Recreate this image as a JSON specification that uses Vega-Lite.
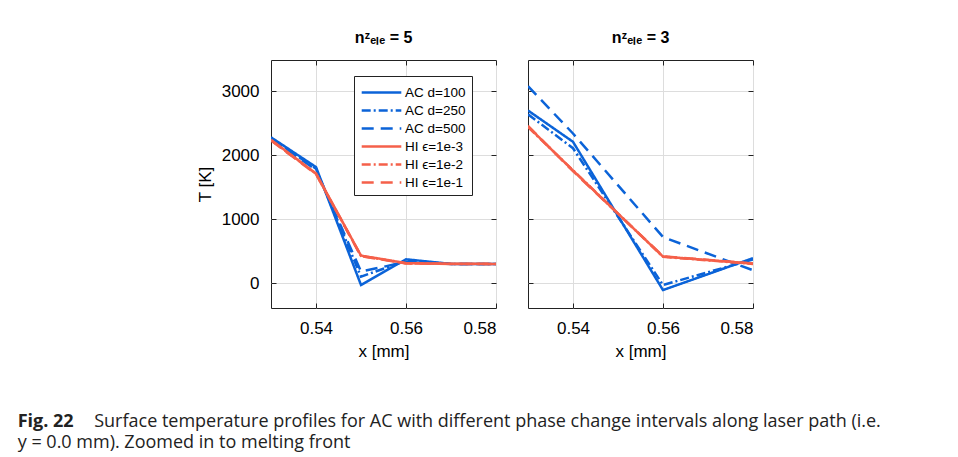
{
  "$schema": "https://vega.github.io/schema/vega-lite/v6.json",
  "padding": {"left": 17, "top": 29, "right": 5, "bottom": 5},
  "background": "white",
  "datasets": {
    "temps": [
      {"panel": "n5", "series": "AC d=100", "x": 0.53, "T": 2280},
      {"panel": "n5", "series": "AC d=100", "x": 0.54, "T": 1815},
      {"panel": "n5", "series": "AC d=100", "x": 0.55, "T": -30},
      {"panel": "n5", "series": "AC d=100", "x": 0.56, "T": 372},
      {"panel": "n5", "series": "AC d=100", "x": 0.57, "T": 300},
      {"panel": "n5", "series": "AC d=100", "x": 0.58, "T": 300},
      {"panel": "n5", "series": "AC d=250", "x": 0.53, "T": 2270},
      {"panel": "n5", "series": "AC d=250", "x": 0.54, "T": 1790},
      {"panel": "n5", "series": "AC d=250", "x": 0.55, "T": 100},
      {"panel": "n5", "series": "AC d=250", "x": 0.56, "T": 350},
      {"panel": "n5", "series": "AC d=250", "x": 0.57, "T": 300},
      {"panel": "n5", "series": "AC d=250", "x": 0.58, "T": 300},
      {"panel": "n5", "series": "AC d=500", "x": 0.53, "T": 2265},
      {"panel": "n5", "series": "AC d=500", "x": 0.54, "T": 1770},
      {"panel": "n5", "series": "AC d=500", "x": 0.55, "T": 180},
      {"panel": "n5", "series": "AC d=500", "x": 0.56, "T": 330},
      {"panel": "n5", "series": "AC d=500", "x": 0.57, "T": 300},
      {"panel": "n5", "series": "AC d=500", "x": 0.58, "T": 300},
      {"panel": "n5", "series": "HI ϵ=1e-3", "x": 0.53, "T": 2240},
      {"panel": "n5", "series": "HI ϵ=1e-3", "x": 0.54, "T": 1715},
      {"panel": "n5", "series": "HI ϵ=1e-3", "x": 0.55, "T": 430},
      {"panel": "n5", "series": "HI ϵ=1e-3", "x": 0.56, "T": 312},
      {"panel": "n5", "series": "HI ϵ=1e-3", "x": 0.57, "T": 302},
      {"panel": "n5", "series": "HI ϵ=1e-3", "x": 0.58, "T": 300},
      {"panel": "n5", "series": "HI ϵ=1e-2", "x": 0.53, "T": 2235},
      {"panel": "n5", "series": "HI ϵ=1e-2", "x": 0.54, "T": 1710},
      {"panel": "n5", "series": "HI ϵ=1e-2", "x": 0.55, "T": 425},
      {"panel": "n5", "series": "HI ϵ=1e-2", "x": 0.56, "T": 310},
      {"panel": "n5", "series": "HI ϵ=1e-2", "x": 0.57, "T": 300},
      {"panel": "n5", "series": "HI ϵ=1e-2", "x": 0.58, "T": 300},
      {"panel": "n5", "series": "HI ϵ=1e-1", "x": 0.53, "T": 2230},
      {"panel": "n5", "series": "HI ϵ=1e-1", "x": 0.54, "T": 1705},
      {"panel": "n5", "series": "HI ϵ=1e-1", "x": 0.55, "T": 420},
      {"panel": "n5", "series": "HI ϵ=1e-1", "x": 0.56, "T": 308},
      {"panel": "n5", "series": "HI ϵ=1e-1", "x": 0.57, "T": 300},
      {"panel": "n5", "series": "HI ϵ=1e-1", "x": 0.58, "T": 300},
      {"panel": "n3", "series": "AC d=100", "x": 0.53, "T": 2700},
      {"panel": "n3", "series": "AC d=100", "x": 0.54, "T": 2210},
      {"panel": "n3", "series": "AC d=100", "x": 0.56, "T": -110},
      {"panel": "n3", "series": "AC d=100", "x": 0.58, "T": 390},
      {"panel": "n3", "series": "AC d=250", "x": 0.53, "T": 2640},
      {"panel": "n3", "series": "AC d=250", "x": 0.54, "T": 2110},
      {"panel": "n3", "series": "AC d=250", "x": 0.56, "T": -30},
      {"panel": "n3", "series": "AC d=250", "x": 0.58, "T": 370},
      {"panel": "n3", "series": "AC d=500", "x": 0.53, "T": 3080},
      {"panel": "n3", "series": "AC d=500", "x": 0.54, "T": 2340},
      {"panel": "n3", "series": "AC d=500", "x": 0.56, "T": 720},
      {"panel": "n3", "series": "AC d=500", "x": 0.58, "T": 200},
      {"panel": "n3", "series": "HI ϵ=1e-3", "x": 0.53, "T": 2450},
      {"panel": "n3", "series": "HI ϵ=1e-3", "x": 0.54, "T": 1760},
      {"panel": "n3", "series": "HI ϵ=1e-3", "x": 0.56, "T": 415},
      {"panel": "n3", "series": "HI ϵ=1e-3", "x": 0.58, "T": 305},
      {"panel": "n3", "series": "HI ϵ=1e-2", "x": 0.53, "T": 2440},
      {"panel": "n3", "series": "HI ϵ=1e-2", "x": 0.54, "T": 1765},
      {"panel": "n3", "series": "HI ϵ=1e-2", "x": 0.56, "T": 410},
      {"panel": "n3", "series": "HI ϵ=1e-2", "x": 0.58, "T": 300},
      {"panel": "n3", "series": "HI ϵ=1e-1", "x": 0.53, "T": 2460},
      {"panel": "n3", "series": "HI ϵ=1e-1", "x": 0.54, "T": 1750},
      {"panel": "n3", "series": "HI ϵ=1e-1", "x": 0.56, "T": 420},
      {"panel": "n3", "series": "HI ϵ=1e-1", "x": 0.58, "T": 305}
    ]
  },
  "data": {"name": "temps"},
  "title": {
    "text": "Fig. 22",
    "subtitle": ["\u200B\u2003\u2003\u2003\u2003\u2005Surface temperature profiles for AC with different phase change intervals along laser path (i.e.", "y = 0.0 mm). Zoomed in to melting front"],
    "orient": "bottom",
    "anchor": "start",
    "frame": "bounds",
    "dx": -178,
    "offset": 53,
    "font": "Open Sans",
    "fontSize": 18,
    "fontWeight": "bold",
    "color": "#222222",
    "subtitleFont": "Open Sans",
    "subtitleFontSize": 18,
    "subtitleFontWeight": "normal",
    "subtitleColor": "#222222",
    "subtitlePadding": -18,
    "subtitleLineHeight": 21
  },
  "hconcat": [
    {
      "width": 225,
      "height": 248,
      "title": {"text": "nᶻₑₗₑ = 5"},
      "transform": [{"filter": "datum.panel == 'n5'"}],
      "layer": [
        {
          "mark": {"type": "line", "strokeWidth": 2.5, "clip": true},
          "encoding": {
            "x": {"field": "x", "type": "quantitative", "scale": {"domain": [0.53, 0.58], "nice": false, "zero": false},
                  "axis": {"values": [0.54, 0.56, 0.58], "format": ".2f", "title": "x [mm]"}},
            "y": {"field": "T", "type": "quantitative", "scale": {"domain": [-390, 3490], "nice": false, "zero": false},
                  "axis": {"values": [0, 1000, 2000, 3000], "format": "d", "title": "T [K]"}},
            "color": {"field": "series", "type": "nominal",
                      "scale": {"domain": ["AC d=100", "AC d=250", "AC d=500", "HI ϵ=1e-3", "HI ϵ=1e-2", "HI ϵ=1e-1"],
                                "range": ["#0b63d8", "#0b63d8", "#0b63d8", "#f5604a", "#f5604a", "#f5604a"]},
                      "legend": {"orient": "none", "legendX": 83, "legendY": 16, "title": null,
                                 "symbolType": "M-2.2,0H2.2", "symbolSize": 324, "symbolStrokeWidth": 2.5,
                                 "symbolOffset": 11, "labelOffset": 13, "labelFont": "Liberation Sans", "labelFontSize": 13.5,
                                 "labelColor": "black", "strokeColor": "#222222", "fillColor": "white", "padding": 6, "rowPadding": 1}},
            "strokeDash": {"field": "series", "type": "nominal",
                      "scale": {"domain": ["AC d=100", "AC d=250", "AC d=500", "HI ϵ=1e-3", "HI ϵ=1e-2", "HI ϵ=1e-1"],
                                "range": [[1, 0], [9, 3, 2, 3], [12, 7], [1, 0], [9, 3, 2, 3], [12, 7]]},
                      "legend": {"orient": "none", "legendX": 83, "legendY": 16, "title": null,
                                 "symbolType": "M-2.2,0H2.2", "symbolSize": 324, "symbolStrokeWidth": 2.5,
                                 "symbolOffset": 11, "labelOffset": 13, "labelFont": "Liberation Sans", "labelFontSize": 13.5,
                                 "labelColor": "black", "strokeColor": "#222222", "fillColor": "white", "padding": 6, "rowPadding": 1}}
          }
        },
        {
          "mark": {"type": "line", "strokeOpacity": 0},
          "encoding": {
            "x": {"field": "x", "type": "quantitative",
                  "axis": {"orient": "top", "values": [0.54, 0.56, 0.58], "labels": false, "grid": false, "title": null}},
            "y": {"field": "T", "type": "quantitative",
                  "axis": {"orient": "right", "values": [0, 1000, 2000, 3000], "labels": false, "grid": false, "title": null}}
          }
        }
      ],
      "resolve": {"axis": {"x": "independent", "y": "independent"}}
    },
    {
      "width": 225,
      "height": 248,
      "title": {"text": "nᶻₑₗₑ = 3"},
      "transform": [{"filter": "datum.panel == 'n3'"}],
      "layer": [
        {
          "mark": {"type": "line", "strokeWidth": 2.5, "clip": true},
          "encoding": {
            "x": {"field": "x", "type": "quantitative", "scale": {"domain": [0.53, 0.58], "nice": false, "zero": false},
                  "axis": {"values": [0.54, 0.56, 0.58], "format": ".2f", "title": "x [mm]"}},
            "y": {"field": "T", "type": "quantitative", "scale": {"domain": [-390, 3490], "nice": false, "zero": false},
                  "axis": {"values": [0, 1000, 2000, 3000], "labels": false, "title": null}},
            "color": {"field": "series", "type": "nominal",
                      "scale": {"domain": ["AC d=100", "AC d=250", "AC d=500", "HI ϵ=1e-3", "HI ϵ=1e-2", "HI ϵ=1e-1"],
                                "range": ["#0b63d8", "#0b63d8", "#0b63d8", "#f5604a", "#f5604a", "#f5604a"]},
                      "legend": null},
            "strokeDash": {"field": "series", "type": "nominal",
                      "scale": {"domain": ["AC d=100", "AC d=250", "AC d=500", "HI ϵ=1e-3", "HI ϵ=1e-2", "HI ϵ=1e-1"],
                                "range": [[1, 0], [9, 3, 2, 3], [12, 7], [1, 0], [9, 3, 2, 3], [12, 7]]},
                      "legend": null}
          }
        },
        {
          "mark": {"type": "line", "strokeOpacity": 0},
          "encoding": {
            "x": {"field": "x", "type": "quantitative",
                  "axis": {"orient": "top", "values": [0.54, 0.56, 0.58], "labels": false, "grid": false, "title": null}},
            "y": {"field": "T", "type": "quantitative",
                  "axis": {"orient": "right", "values": [0, 1000, 2000, 3000], "labels": false, "grid": false, "title": null}}
          }
        }
      ],
      "resolve": {"axis": {"x": "independent", "y": "independent"}}
    }
  ],
  "spacing": 30,
  "resolve": {
    "scale": {"color": "independent", "strokeDash": "independent"},
    "legend": {"color": "independent", "strokeDash": "independent"}
  },
  "config": {
    "view": {"stroke": "#222222", "strokeWidth": 1},
    "axis": {
      "labelFont": "Liberation Sans", "labelFontSize": 17, "labelColor": "black",
      "titleFont": "Liberation Sans", "titleFontSize": 17, "titleFontWeight": "normal", "titleColor": "black",
      "tickColor": "#222222", "tickSize": -5, "domain": false, "gridColor": "#dddddd", "gridWidth": 1,
      "labelPadding": 17, "titlePadding": 7
    },
    "title": {"font": "Liberation Sans", "fontSize": 16, "fontWeight": "bold", "color": "black", "offset": 14}
  }
}
